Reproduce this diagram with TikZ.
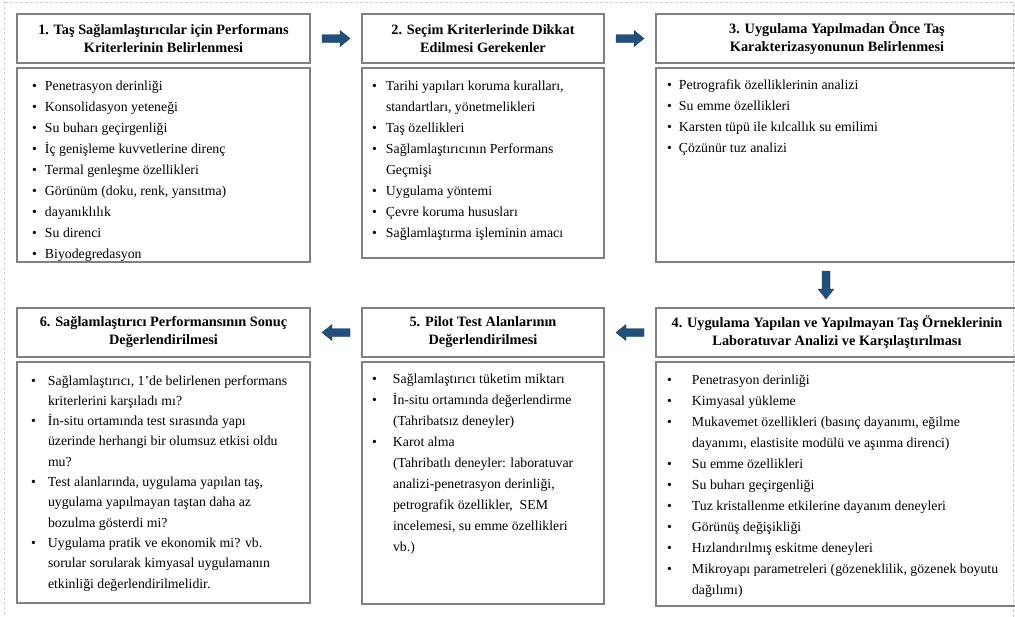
\documentclass[tikz,border=0pt]{standalone}
\usepackage{fontspec}
\setmainfont{Liberation Serif}
\usetikzlibrary{calc}
\definecolor{boxgray}{RGB}{128,128,128}
\definecolor{arrblue}{RGB}{33,80,125}
\definecolor{framegray}{RGB}{205,205,205}
\newcommand\itm[3]{\par\hangindent=#2\hangafter=1\noindent\hspace*{#1}\makebox[\dimexpr#2-#1\relax][l]{•}{\let\\\newline #3}\par}
\newcommand\blkarrow[2]{\fill[arrblue, draw=arrblue!75!black, line width=0.4pt, shift={(#1)}, rotate=#2] (-14,-4) -- (4,-4) -- (4,-8) -- (14,0) -- (4,8) -- (4,4) -- (-14,4) -- cycle;}
\tikzset{
  box/.style={draw=boxgray, line width=1.1pt, inner sep=0pt, outer sep=0pt, anchor=north west},
  head/.style={box, minimum height=49pt, align=center, font=\fontsize{14.3}{18}\selectfont\bfseries},
  txt/.style={inner sep=0pt, outer sep=0pt, anchor=base west, font=\fontsize{13.8}{21}\selectfont},
}
\begin{document}
\begin{tikzpicture}[x=1pt,y=1pt]
\useasboundingbox (0,0) rectangle (1015,-616);
\draw[framegray, densely dashed, line width=0.5pt] (4,-2) rectangle (1013,-640);

% headers
\node[head, minimum width=293pt] (h1) at (17,-14) {1. Taş Sağlamlaştırıcılar için Performans\\Kriterlerinin Belirlenmesi};
\node[head, minimum width=242pt] (h2) at (362,-14) {2. Seçim Kriterlerinde Dikkat\\Edilmesi Gerekenler};
\node[head, minimum width=362pt] (h3) at (656,-14) {3. Uygulama Yapılmadan Önce Taş\\Karakterizasyonunun Belirlenmesi};
\node[head, minimum width=362pt] (h4) at (656,-308) {4. Uygulama Yapılan ve Yapılmayan Taş Örneklerinin\\Laboratuvar Analizi ve Karşılaştırılması};
\node[head, minimum width=242pt] (h5) at (362,-308) {5. Pilot Test Alanlarının\\Değerlendirilmesi};
\node[head, minimum width=293pt] (h6) at (17,-308) {6. Sağlamlaştırıcı Performansının Sonuç\\Değerlendirilmesi};

% bodies
\node[box, minimum width=293pt, minimum height=194pt] (b1) at (17,-68) {};
\node[box, minimum width=242pt, minimum height=190pt] (b2) at (362,-68) {};
\node[box, minimum width=362pt, minimum height=194pt] (b3) at (656,-68) {};
\node[box, minimum width=362pt, minimum height=244pt] (b4) at (656,-362) {};
\node[box, minimum width=242pt, minimum height=242pt] (b5) at (362,-362) {};
\node[box, minimum width=293pt, minimum height=241pt] (b6) at (17,-362) {};

\node[txt] (t1) at ($(b1.north west)+(0,-22)$) {\parbox[t]{290pt}{\raggedright
\itm{15pt}{28pt}{Penetrasyon derinliği}
\itm{15pt}{28pt}{Konsolidasyon yeteneği}
\itm{15pt}{28pt}{Su buharı geçirgenliği}
\itm{15pt}{28pt}{İç genişleme kuvvetlerine direnç}
\itm{15pt}{28pt}{Termal genleşme özellikleri}
\itm{15pt}{28pt}{Görünüm (doku, renk, yansıtma)}
\itm{15pt}{28pt}{dayanıklılık}
\itm{15pt}{28pt}{Su direnci}
\itm{15pt}{28pt}{Biyodegredasyon}}};

\node[txt] (t2) at ($(b2.north west)+(0,-22)$) {\parbox[t]{240pt}{\raggedright
\itm{10pt}{24pt}{Tarihi yapıları koruma kuralları,\\standartları, yönetmelikleri}
\itm{10pt}{24pt}{Taş özellikleri}
\itm{10pt}{24pt}{Sağlamlaştırıcının Performans\\Geçmişi}
\itm{10pt}{24pt}{Uygulama yöntemi}
\itm{10pt}{24pt}{Çevre koruma hususları}
\itm{10pt}{24pt}{Sağlamlaştırma işleminin amacı}}};

\node[txt] (t3) at ($(b3.north west)+(0,-21)$) {\parbox[t]{350pt}{\raggedright
\itm{11pt}{23pt}{Petrografik özelliklerinin analizi}
\itm{11pt}{23pt}{Su emme özellikleri}
\itm{11pt}{23pt}{Karsten tüpü ile kılcallık su emilimi}
\itm{11pt}{23pt}{Çözünür tuz analizi}}};

\node[txt] (t4) at ($(b4.north west)+(0,-22)$) {\parbox[t]{355pt}{\raggedright
\itm{11pt}{36pt}{Penetrasyon derinliği}
\itm{11pt}{36pt}{Kimyasal yükleme}
\itm{11pt}{36pt}{Mukavemet özellikleri (basınç dayanımı, eğilme\\dayanımı, elastisite modülü ve aşınma direnci)}
\itm{11pt}{36pt}{Su emme özellikleri}
\itm{11pt}{36pt}{Su buharı geçirgenliği}
\itm{11pt}{36pt}{Tuz kristallenme etkilerine dayanım deneyleri}
\itm{11pt}{36pt}{Görünüş değişikliği}
\itm{11pt}{36pt}{Hızlandırılmış eskitme deneyleri}
\itm{11pt}{36pt}{Mikroyapı parametreleri (gözeneklilik, gözenek boyutu\\dağılımı)}}};

\node[txt] (t5) at ($(b5.north west)+(0,-21)$) {\parbox[t]{240pt}{\raggedright
\itm{10pt}{31pt}{Sağlamlaştırıcı tüketim miktarı}
\itm{10pt}{31pt}{İn-situ ortamında değerlendirme\\(Tahribatsız deneyler)}
\itm{10pt}{31pt}{Karot alma\\(Tahribatlı deneyler: laboratuvar\\analizi-penetrasyon derinliği,\\petrografik özellikler,\ \ SEM\\incelemesi, su emme özellikleri\\vb.)}}};

\node[txt, font=\fontsize{13.8}{20.3}\selectfont] (t6) at ($(b6.north west)+(0,-23)$) {\parbox[t]{290pt}{\raggedright
\itm{14pt}{31pt}{Sağlamlaştırıcı, 1'de belirlenen performans\\kriterlerini karşıladı mı?}
\itm{14pt}{31pt}{İn-situ ortamında test sırasında yapı\\üzerinde herhangi bir olumsuz etkisi oldu\\mu?}
\itm{14pt}{31pt}{Test alanlarında, uygulama yapılan taş,\\uygulama yapılmayan taştan daha az\\bozulma gösterdi mi?}
\itm{14pt}{31pt}{Uygulama pratik ve ekonomik mi? vb.\\sorular sorularak kimyasal uygulamanın\\etkinliği değerlendirilmelidir.}}};

% arrows
\coordinate (a12) at ($(h1.east)!0.5!(h2.west)$);
\coordinate (a23) at ($(h2.east)!0.5!(h3.west)$);
\coordinate (a34) at ($(b3.south)!0.5!(h4.north)+(-11,0)$);
\coordinate (a45) at ($(h4.west)!0.5!(h5.east)$);
\coordinate (a56) at ($(h5.west)!0.5!(h6.east)$);
\blkarrow{a12}{0}
\blkarrow{a23}{0}
\blkarrow{a34}{-90}
\blkarrow{a45}{180}
\blkarrow{a56}{180}
\end{tikzpicture}
\end{document}
